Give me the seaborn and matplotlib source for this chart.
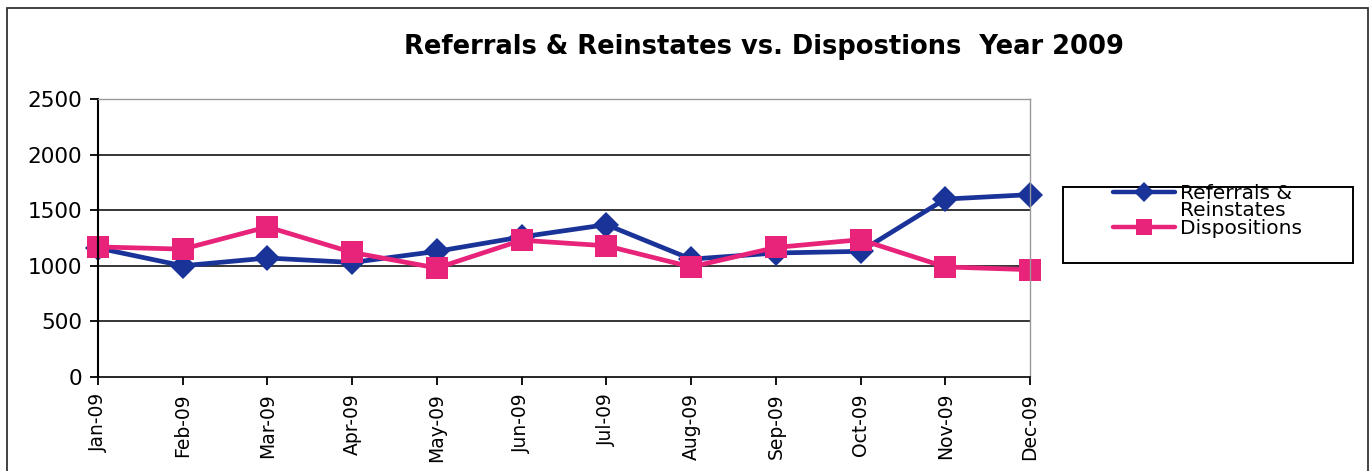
import matplotlib
matplotlib.use("Agg")
import matplotlib.pyplot as plt
import seaborn as sns
import pandas as pd
from matplotlib.patches import Rectangle

months = ["Jan-09", "Feb-09", "Mar-09", "Apr-09", "May-09", "Jun-09",
          "Jul-09", "Aug-09", "Sep-09", "Oct-09", "Nov-09", "Dec-09"]
referrals = [1160, 1000, 1070, 1030, 1130, 1260, 1370, 1060, 1115, 1130, 1600, 1640]
dispositions = [1170, 1150, 1350, 1120, 980, 1230, 1180, 990, 1165, 1235, 990, 965]
series_names = ["Referrals & Reinstates", "Dispositions"]
y_ticks = [0, 500, 1000, 1500, 2000, 2500]

sns.set_theme(style="white")
plt.rcParams['font.family'] = ['DejaVu Sans']
plt.rcParams['text.color'] = 'black'
plt.rcParams['xtick.color'] = 'black'
plt.rcParams['ytick.color'] = 'black'

df = pd.DataFrame({
    "idx": list(range(len(months))) * 2,
    "value": referrals + dispositions,
    "series": [series_names[0]] * len(months) + [series_names[1]] * len(months),
})

fig = plt.figure(figsize=(13.69, 4.71), dpi=100)
ax = fig.add_axes([98 / 1369, 1 - 377 / 471, (1030 - 98) / 1369, (377 - 99) / 471])

palette = {series_names[0]: "#1a3399", series_names[1]: "#e8237a"}
sns.lineplot(data=df, x="idx", y="value", hue="series", style="series",
             markers={series_names[0]: "D", series_names[1]: "s"},
             dashes=False, palette=palette, linewidth=3.4,
             markersize=13, markeredgewidth=0, ax=ax, legend=False)
for line, ms in zip(ax.get_lines(), [13.5, 16]):
    line.set_markersize(ms)
    line.set_clip_on(False)

ax.set_xlim(0, len(months) - 1)
ax.set_ylim(0, 2500)
ax.set_xticks(range(len(months)))
ax.set_xticklabels(months, rotation=90, fontsize=13.5, color="black")
ax.set_yticks(y_ticks)
ax.set_yticklabels([str(v) for v in y_ticks], fontsize=15.5, color="black")
ax.set_xlabel("")
ax.set_ylabel("")
for y in y_ticks[1:-1]:
    ax.axhline(y, color="black", linewidth=1.1, zorder=0)

ax.spines["left"].set_color("black")
ax.spines["left"].set_linewidth(1.5)
ax.spines["bottom"].set_color("black")
ax.spines["bottom"].set_linewidth(1.2)
ax.spines["top"].set_color("#999999")
ax.spines["top"].set_linewidth(1.0)
ax.spines["right"].set_color("#999999")
ax.spines["right"].set_linewidth(1.0)
ax.tick_params(axis="both", which="both", direction="out", length=5.5, width=1.3,
               color="black", left=True, bottom=True, pad=6)

fig.text(764 / 1369, 1 - 47 / 471, "Referrals & Reinstates vs. Dispostions  Year 2009",
         ha="center", va="center", fontsize=18.5, fontweight="bold", color="black")

# outer chart border
fig.patches.append(Rectangle((7 / 1369, -0.05), (1368 - 7) / 1369, 1 - 8 / 471 + 0.05,
                             transform=fig.transFigure, fill=False,
                             edgecolor="#333333", linewidth=1.3))
# legend frame
fig.patches.append(Rectangle((1063 / 1369, 1 - 263 / 471), (1353 - 1063) / 1369, (263 - 187) / 471,
                             transform=fig.transFigure, fill=False,
                             edgecolor="black", linewidth=1.4))

h_ref = plt.Line2D([], [], color=palette[series_names[0]], linewidth=3.2,
                   marker="D", markersize=10, markeredgewidth=0)
h_blank = plt.Line2D([], [], color="none", linewidth=0)
h_dis = plt.Line2D([], [], color=palette[series_names[1]], linewidth=3.2,
                   marker="s", markersize=12, markeredgewidth=0)
leg = fig.legend([h_ref, h_blank, h_dis], ["Referrals &", "Reinstates", "Dispositions"],
                 loc="upper left",
                 bbox_to_anchor=(1113 / 1369, 1 - 184 / 471),
                 frameon=False, fontsize=14.5, handlelength=3.1,
                 borderaxespad=0, labelspacing=-0.08, handletextpad=0.25,
                 borderpad=0.0)
for t in leg.get_texts():
    t.set_color("black")

fig.savefig("out.png", dpi=100)
